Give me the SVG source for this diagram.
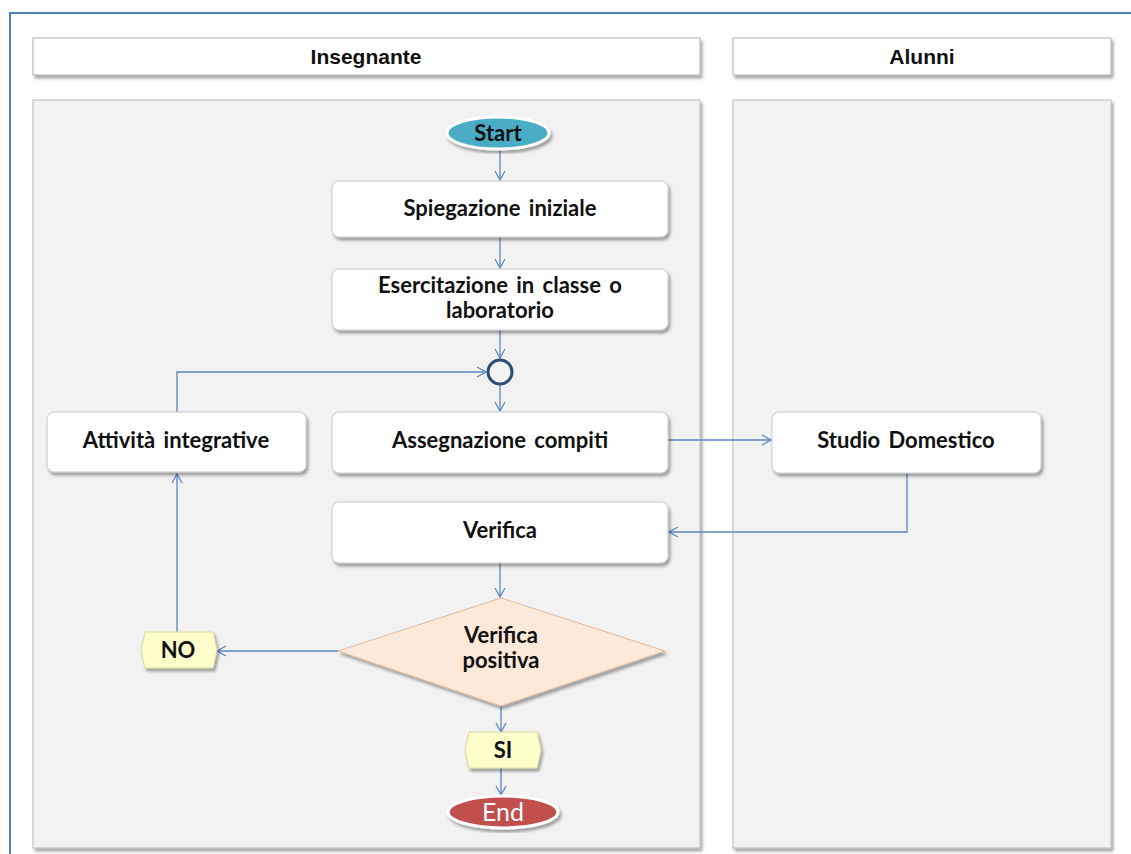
<svg xmlns="http://www.w3.org/2000/svg" width="1131" height="854" viewBox="0 0 1131 854">
<defs>
<style>
.hdr{fill:#fff;stroke:#b0b0b0;stroke-width:1}
.lane{fill:#f2f2f2;stroke:#b8b8b8;stroke-width:1}
.box{fill:#fff;stroke:#c8c8c8;stroke-width:1}
.ht{font-family:"Liberation Sans",Arial,sans-serif;font-weight:bold;font-size:21px;fill:#111;text-anchor:middle}
.nt{font-family:Lato,"Open Sans",sans-serif;font-weight:bold;font-size:22px;word-spacing:3px;fill:#111;text-anchor:middle}
.con{fill:none;stroke:#5a86c0;stroke-width:1.3}
.lbl{fill:#ffffcc;stroke:#d8d8a0;stroke-width:1}
</style>
<filter id="sh" x="-5%" y="-5%" width="112%" height="120%">
<feDropShadow dx="2" dy="3" stdDeviation="1.5" flood-color="#000" flood-opacity="0.35"/>
</filter>
<marker id="arr" markerWidth="12" markerHeight="12" refX="10" refY="6" orient="auto" markerUnits="userSpaceOnUse">
<path d="M1,1 L10,6 L1,11" fill="none" stroke="#5a86c0" stroke-width="1.3"/>
</marker>
</defs>
<rect x="0" y="0" width="1131" height="854" fill="#fff"/>
<path d="M10,860 L10,13 L1140,13" fill="none" stroke="#4f81bd" stroke-width="2"/>

<g id="header-insegnante">
<rect class="hdr" x="33" y="38" width="667" height="37" filter="url(#sh)"/>
<text class="ht" x="366" y="64">Insegnante</text>
</g>
<g id="header-alunni">
<rect class="hdr" x="733" y="38" width="378" height="37" filter="url(#sh)"/>
<text class="ht" x="922" y="64">Alunni</text>
</g>
<g id="lane-insegnante">
<rect class="lane" x="33" y="100" width="667" height="748" filter="url(#sh)"/>
</g>
<g id="lane-alunni">
<rect class="lane" x="733" y="100" width="378" height="748" filter="url(#sh)"/>
</g>

<g id="connectors">
<line class="con" x1="500" y1="148" x2="500" y2="180" marker-end="url(#arr)"/>
<line class="con" x1="500" y1="237" x2="500" y2="268" marker-end="url(#arr)"/>
<line class="con" x1="500" y1="330" x2="500" y2="358" marker-end="url(#arr)"/>
<line class="con" x1="500" y1="385" x2="500" y2="411" marker-end="url(#arr)"/>
<path class="con" d="M177,412 L177,372 L486,372" marker-end="url(#arr)"/>
<line class="con" x1="668" y1="440" x2="771" y2="440" marker-end="url(#arr)"/>
<path class="con" d="M907,473 L907,532 L669,532" marker-end="url(#arr)"/>
<line class="con" x1="500" y1="563" x2="500" y2="597" marker-end="url(#arr)"/>
<line class="con" x1="338" y1="651" x2="217" y2="651" marker-end="url(#arr)"/>
<line class="con" x1="177" y1="632" x2="177" y2="474" marker-end="url(#arr)"/>
<line class="con" x1="501" y1="706" x2="501" y2="732" marker-end="url(#arr)"/>
<line class="con" x1="501" y1="768" x2="501" y2="795" marker-end="url(#arr)"/>
</g>

<g id="start">
<ellipse cx="498" cy="133" rx="51" ry="16" fill="#4bacc6" stroke="#fff" stroke-width="3" filter="url(#sh)"/>
<text class="nt" x="498" y="141" fill="#1f2a33">Start</text>
</g>
<g id="spiegazione">
<rect class="box" x="332" y="181" width="336" height="56" rx="7" filter="url(#sh)"/>
<text class="nt" x="500" y="216">Spiegazione iniziale</text>
</g>
<g id="esercitazione">
<rect class="box" x="332" y="269" width="336" height="61" rx="7" filter="url(#sh)"/>
<text class="nt" x="500" y="293">Esercitazione in classe o</text>
<text class="nt" x="500" y="318">laboratorio</text>
</g>
<g id="merge">
<circle cx="500" cy="372" r="12" fill="#f2f2f2" stroke="#2e4d73" stroke-width="3"/>
</g>
<g id="attivita">
<rect class="box" x="47" y="412" width="259" height="60" rx="7" filter="url(#sh)"/>
<text class="nt" x="176" y="448">Attività integrative</text>
</g>
<g id="assegnazione">
<rect class="box" x="332" y="412" width="336" height="61" rx="7" filter="url(#sh)"/>
<text class="nt" x="500" y="448">Assegnazione compiti</text>
</g>
<g id="studio">
<rect class="box" x="772" y="412" width="269" height="61" rx="7" filter="url(#sh)"/>
<text class="nt" x="906" y="448">Studio Domestico</text>
</g>
<g id="verifica">
<rect class="box" x="332" y="502" width="336" height="61" rx="7" filter="url(#sh)"/>
<text class="nt" x="500" y="538">Verifica</text>
</g>
<g id="decisione">
<polygon points="501,598 665,651 501,706 338,651" fill="#fde9d9" stroke="#e0b89c" stroke-width="1" filter="url(#sh)"/>
<text class="nt" x="501" y="643">Verifica</text>
<text class="nt" x="501" y="668">positiva</text>
</g>
<g id="no">
<polygon points="145,632 213,632 217,650 213,668 145,668 141,650" class="lbl" filter="url(#sh)"/>
<text class="nt" x="178" y="658">NO</text>
</g>
<g id="si">
<polygon points="469,732 537,732 541,750 537,768 469,768 465,750" class="lbl" filter="url(#sh)"/>
<text class="nt" x="503" y="758">SI</text>
</g>
<g id="end">
<ellipse cx="503" cy="812" rx="55" ry="16" fill="#c0504d" stroke="#fff" stroke-width="3" filter="url(#sh)"/>
<text x="503" y="821" text-anchor="middle" font-family="Lato,'Open Sans',sans-serif" font-size="25" fill="#fff">End</text>
</g>
</svg>
